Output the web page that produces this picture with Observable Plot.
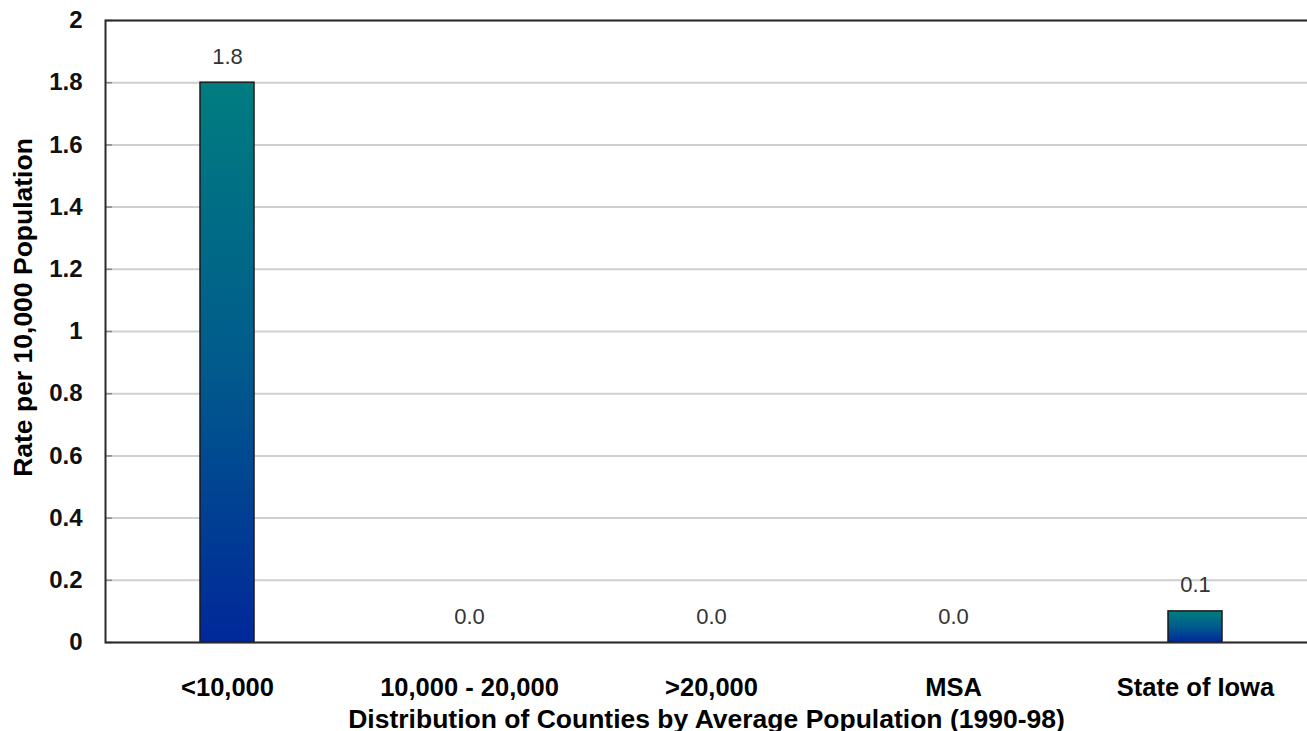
<!DOCTYPE html>
<html>
<head>
<meta charset="utf-8">
<script src="https://cdn.jsdelivr.net/npm/d3@7"></script>
<script src="https://cdn.jsdelivr.net/npm/@observablehq/plot@0.6"></script>
<style>
  html, body { margin: 0; padding: 0; background: #fff; }
  #chart svg { display: block; overflow: visible; }
</style>
</head>
<body>
<div id="chart"></div>
<script>
const categories = ["<10,000", "10,000 - 20,000", ">20,000", "MSA", "State of Iowa"];
const rates = [1.8, 0.0, 0.0, 0.0, 0.1];
const yTicks = [0, 0.2, 0.4, 0.6, 0.8, 1, 1.2, 1.4, 1.6, 1.8, 2];
const xTitle = "Distribution of Counties by Average Population (1990-98)";
const yTitle = "Rate per 10,000 Population";

const data = categories.map((c, i) => ({category: c, rate: rates[i]}));

const font = "'Liberation Sans', Arial, sans-serif";

function gradientDefs() {
  const ns = "http://www.w3.org/2000/svg";
  const defs = document.createElementNS(ns, "defs");
  const lg = document.createElementNS(ns, "linearGradient");
  lg.setAttribute("id", "barGrad");
  lg.setAttribute("x1", "0"); lg.setAttribute("y1", "0");
  lg.setAttribute("x2", "0"); lg.setAttribute("y2", "1");
  [["0%", "#007d80"], ["50%", "#015b8c"], ["100%", "#00289a"]].forEach(([o, c]) => {
    const s = document.createElementNS(ns, "stop");
    s.setAttribute("offset", o); s.setAttribute("stop-color", c);
    lg.appendChild(s);
  });
  defs.appendChild(lg);
  return defs;
}

const chart = Plot.plot({
  width: 1307,
  height: 731,
  marginTop: 20,
  marginBottom: 89,
  marginLeft: 105,
  marginRight: 0,
  style: {fontFamily: font, background: "#fff", overflow: "visible"},
  x: {domain: categories, range: [105, 1317.5], paddingInner: 0.777, paddingOuter: 0.3885, align: 0.5},
  y: {domain: [0, 2]},
  marks: [
    gradientDefs,
    Plot.gridY(yTicks, {stroke: "#cfcfcf", strokeOpacity: 1, strokeWidth: 2}),
    Plot.axisY(yTicks, {tickSize: -7, stroke: "#888", strokeWidth: 1.5, tickFormat: () => "", label: null}),
    Plot.axisY(yTicks, {
      tickSize: 0, tickPadding: 23, fontSize: 24, fontWeight: "bold", fill: "#111",
      tickFormat: d => String(d), label: null
    }),
    Plot.axisY(yTicks, {
      tickSize: 0, tickFormat: () => "", fontSize: 26.5, fontWeight: "bold", fill: "#000",
      label: yTitle, labelAnchor: "center", labelArrow: "none", labelOffset: 92
    }),
    Plot.axisX({
      tickSize: 0, tickPadding: 35, fontSize: 25.5, fontWeight: "bold", fill: "#000", label: null
    }),
    Plot.axisX({
      tickSize: 0, tickFormat: () => "", fontSize: 26.5, fontWeight: "bold", fill: "#000",
      label: xTitle, labelAnchor: "center", labelArrow: "none", labelOffset: 85
    }),
    Plot.barY(data, {x: "category", y: "rate", fill: "url(#barGrad)", stroke: "#1a1a1a", strokeWidth: 1.5}),
    Plot.text(data, {
      x: "category", y: "rate", text: d => d.rate.toFixed(1), dy: -26,
      fontSize: 22, fill: "#333", fontFamily: font, style: "letter-spacing:2px"
    }),
    Plot.frame({stroke: "#2a2a2a", strokeWidth: 2, insetRight: -6})
  ]
});

document.getElementById("chart").appendChild(chart);
// the y axis title sits a little above the frame centre in the reference
const yLab = chart.querySelector('[aria-label="y-axis label"]');
if (yLab) {
  const t = yLab.getAttribute("transform") || "";
  yLab.setAttribute("transform", "translate(0,-24) " + t);
}
</script>
</body>
</html>
